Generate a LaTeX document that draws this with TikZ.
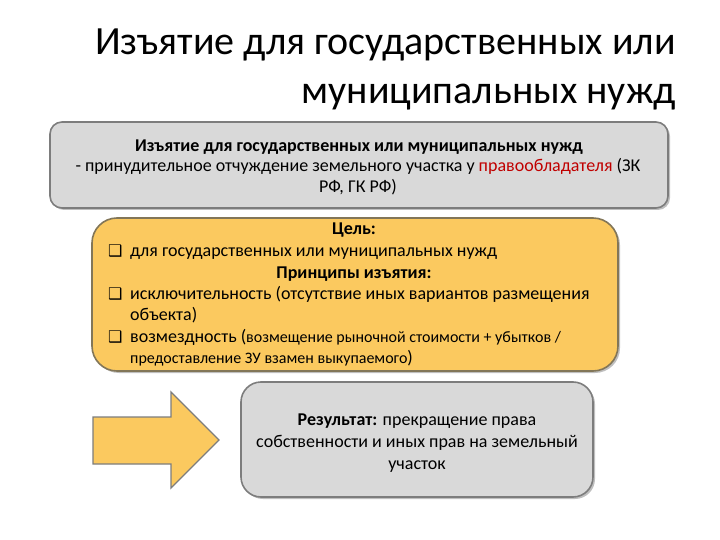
\documentclass[tikz,border=0pt]{standalone}
\usepackage{fontspec}
\setmainfont{Carlito}
\newfontfamily\dejavu{DejaVu Sans}
\definecolor{boxgray}{RGB}{217,217,217}
\definecolor{edgegray}{RGB}{125,125,125}
\definecolor{goldfill}{RGB}{251,201,95}
\definecolor{goldedge}{RGB}{130,118,88}
\definecolor{darkred}{RGB}{192,0,0}
\tikzset{
  txt/.style={inner sep=0pt, font=\fontsize{18}{21}\selectfont},
  graybox/.style={draw=edgegray, line width=1.6pt, fill=boxgray},
  goldbox/.style={draw=goldedge, line width=1.6pt, fill=goldfill},
  shade/.style={fill=black!25},
}
\newcommand{\cbx}{{\dejavu\fontsize{16}{16}\selectfont ❑}}
\newcommand{\smtxt}{\fontsize{16}{19}\selectfont}
\begin{document}
\begin{tikzpicture}[x=1pt,y=-1pt]
\useasboundingbox (0,0) rectangle (720,540);
% title
\node[inner sep=0pt, anchor=base east, font=\fontsize{40}{48}\selectfont] (t1) at (676,55) {Изъятие для государственных или};
\node[inner sep=0pt, anchor=base east, font=\fontsize{40}{48}\selectfont] (t2) at (676,104) {муниципальных нужд};
% box 1
\fill[shade, rounded corners=12pt] (52,124) rectangle (670,210);
\draw[graybox, rounded corners=12pt] (50,122) rectangle (668,208);
\node[txt, anchor=base] (b1a) at (359,152) {\bfseries Изъятие для государственных или муниципальных нужд};
\node[txt, anchor=base] (b1b) at (358,172) {- принудительное отчуждение земельного участка у \textcolor{darkred}{правообладателя} (ЗК};
\node[txt, anchor=base] (b1c) at (358,193) {РФ, ГК РФ)};
% box 2
\fill[shade, rounded corners=25pt] (94,220) rectangle (620,373);
\draw[goldbox, rounded corners=25pt] (92,218) rectangle (618,371);
\node[txt, anchor=base] (g1) at (354,235) {\bfseries Цель:};
\node[txt, anchor=base west] (c1) at (108,256) {\cbx};
\node[txt, anchor=base west] (g2) at (130,256) {для государственных или муниципальных нужд};
\node[txt, anchor=base] (g3) at (354,278) {\bfseries Принципы изъятия:};
\node[txt, anchor=base west] (c2) at (108,299) {\cbx};
\node[txt, anchor=base west] (g4) at (130,299) {исключительность (отсутствие иных вариантов размещения};
\node[txt, anchor=base west] (g5) at (130,320) {объекта)};
\node[txt, anchor=base west] (c3) at (108,342) {\cbx};
\node[txt, anchor=base west] (g6) at (130,342) {возмездность ({\smtxt возмещение рыночной стоимости + убытков /}};
\node[txt, anchor=base west] (g7) at (130,363) {{\smtxt предоставление ЗУ взамен выкупаемого})};
% arrow
\draw[fill=goldfill, draw=edgegray, line width=1.4pt, line join=miter]
  (93,417) -- (171,417) -- (171,392) -- (219,440) -- (171,488) -- (171,464) -- (93,464) -- cycle;
% result box
\fill[shade, rounded corners=20pt] (243,384) rectangle (595,499);
\draw[graybox, rounded corners=20pt] (241,382) rectangle (593,497);
\node[txt, anchor=base] (r1) at (417,425) {\bfseries Результат:\mdseries{} прекращение права};
\node[txt, anchor=base] (r2) at (417,447) {собственности и иных прав на земельный};
\node[txt, anchor=base] (r3) at (417,469) {участок};
\end{tikzpicture}
\end{document}
